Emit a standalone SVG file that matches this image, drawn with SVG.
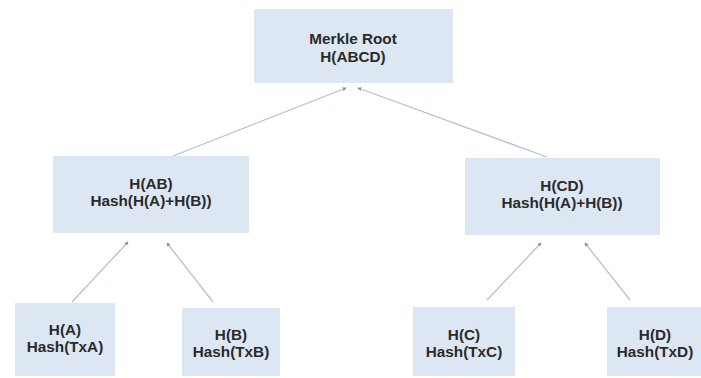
<svg xmlns="http://www.w3.org/2000/svg" width="701" height="378" viewBox="0 0 701 378">
  <style>
    .box { fill: #dde7f3; }
    .lbl { font-family: "Liberation Sans", Arial, sans-serif; font-size: 15.3px; font-weight: bold; fill: #2a2a2a; text-anchor: middle; }
    .edge { stroke: #b4c1d2; stroke-width: 1.3; fill: none; marker-end: url(#tip); }
  </style>
  <defs>
    <marker id="tip" viewBox="0 0 6 6" refX="5" refY="3" markerWidth="4" markerHeight="4" orient="auto" markerUnits="userSpaceOnUse">
      <path d="M0,0 L6,3 L0,6 Z" fill="#8a93a0"/>
    </marker>
  </defs>

  <rect width="701" height="378" fill="#ffffff"/>

  <!-- connectors: child to parent -->
  <g id="connectors">
    <line class="edge" x1="173" y1="156" x2="346" y2="88"/>
    <line class="edge" x1="547" y1="157" x2="358" y2="88"/>
    <line class="edge" x1="72" y1="302" x2="128" y2="242"/>
    <line class="edge" x1="213" y1="302" x2="167" y2="243"/>
    <line class="edge" x1="487" y1="300" x2="541" y2="243"/>
    <line class="edge" x1="630" y1="300" x2="585" y2="243"/>
  </g>

  <g id="root">
    <rect class="box" x="254" y="9" width="199" height="74"/>
    <text class="lbl" x="353" y="44">Merkle Root</text>
    <text class="lbl" x="353" y="62">H(ABCD)</text>
  </g>

  <g id="hab">
    <rect class="box" x="53" y="156" width="196" height="77"/>
    <text class="lbl" x="151" y="189">H(AB)</text>
    <text class="lbl" x="151" y="206">Hash(H(A)+H(B))</text>
  </g>

  <g id="hcd">
    <rect class="box" x="465" y="158" width="195" height="77"/>
    <text class="lbl" x="562" y="191">H(CD)</text>
    <text class="lbl" x="562" y="208">Hash(H(A)+H(B))</text>
  </g>

  <g id="ha">
    <rect class="box" x="15" y="303" width="100" height="73"/>
    <text class="lbl" x="65" y="335">H(A)</text>
    <text class="lbl" x="65" y="352">Hash(TxA)</text>
  </g>

  <g id="hb">
    <rect class="box" x="182" y="308" width="98" height="68"/>
    <text class="lbl" x="231" y="340">H(B)</text>
    <text class="lbl" x="231" y="357">Hash(TxB)</text>
  </g>

  <g id="hc">
    <rect class="box" x="413" y="307" width="102" height="69"/>
    <text class="lbl" x="464" y="340">H(C)</text>
    <text class="lbl" x="464" y="357">Hash(TxC)</text>
  </g>

  <g id="hd">
    <rect class="box" x="607" y="307" width="94" height="69"/>
    <text class="lbl" x="655" y="340">H(D)</text>
    <text class="lbl" x="655" y="357">Hash(TxD)</text>
  </g>
</svg>
